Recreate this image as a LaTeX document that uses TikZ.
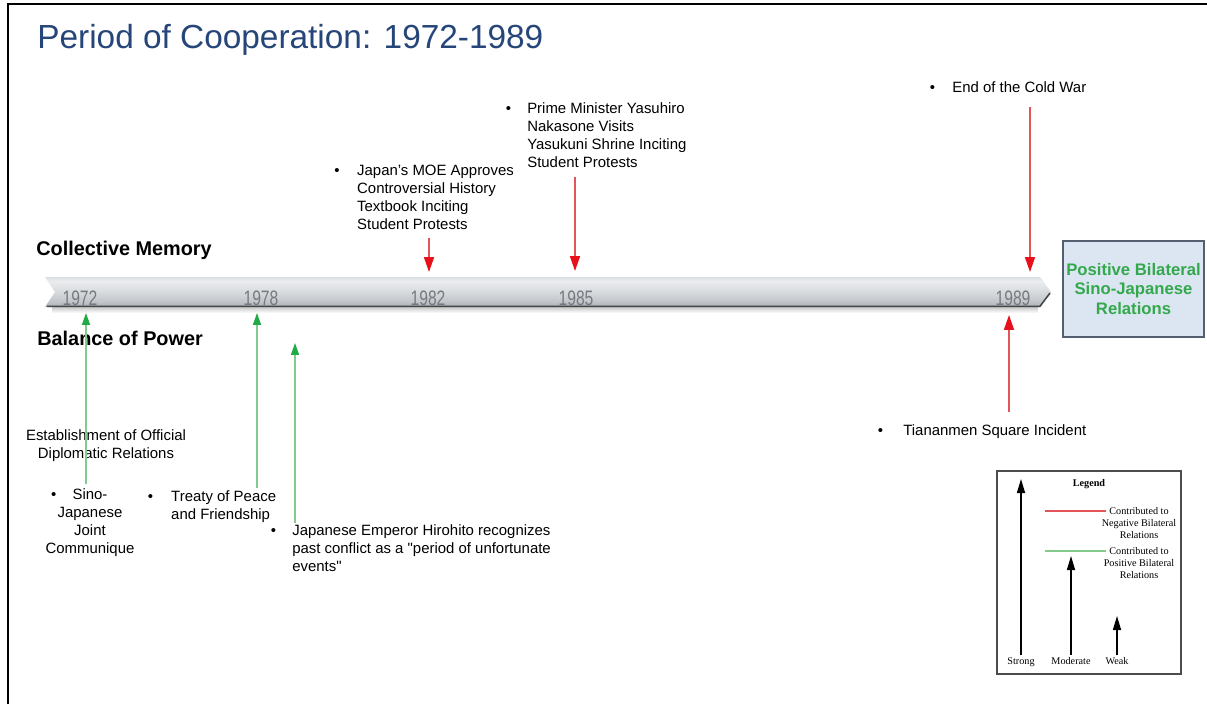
\documentclass[tikz,border=0pt]{standalone}
\usepackage{fontspec}
\setmainfont{Liberation Sans}
\newfontfamily\legendfont{Liberation Serif}
\usetikzlibrary{arrows.meta}

% palette
\definecolor{titleblue}{RGB}{38,70,122}
\definecolor{linered}{RGB}{226,84,88}
\definecolor{headred}{RGB}{232,16,26}
\definecolor{linegreen}{RGB}{130,202,142}
\definecolor{headgreen}{RGB}{34,170,70}
\definecolor{boxfill}{RGB}{220,230,242}
\definecolor{boxedge}{RGB}{84,96,112}
\definecolor{boxtext}{RGB}{52,168,76}
\definecolor{yeargray}{RGB}{118,123,129}
\definecolor{barA}{RGB}{168,172,176}
\definecolor{barB}{RGB}{192,196,200}
\definecolor{barC}{RGB}{218,221,224}
\definecolor{barD}{RGB}{234,236,238}
\definecolor{barE}{RGB}{220,223,226}

% timeline bar: darker towards its lower edge
\pgfdeclareverticalshading{barshade}{100bp}{color(0bp)=(barA); color(25bp)=(barA);
  color(33bp)=(barB); color(52bp)=(barC); color(68bp)=(barD); color(75bp)=(barE); color(100bp)=(barE)}

\newcommand\txtblock[2]{\begin{tabular}[t]{@{}#1@{}}#2\end{tabular}}
\newcommand\bul[1]{\makebox[#1][l]{\textbullet}}

\tikzset{
  body/.style={font=\fontsize{8.5}{10.4}\selectfont, inner sep=0pt, anchor=base west},
  bodyc/.style={font=\fontsize{8.5}{10.4}\selectfont, inner sep=0pt, anchor=base},
  heading/.style={font=\fontsize{11.3}{13.5}\selectfont\bfseries, inner sep=0pt, anchor=base west},
  yearlabel/.style={font=\fontsize{11.9}{14}\selectfont, text=yeargray, inner sep=0pt, anchor=base},
  legtext/.style={font=\legendfont\fontsize{5.8}{7.1}\selectfont, inner sep=0pt, anchor=base},
  negarrow/.style={draw=linered, line width=0.85pt, -{Triangle[length=8.5pt, width=5.7pt, color=headred]}},
  posarrow/.style={draw=linegreen, line width=0.75pt, -{Triangle[length=6.8pt, width=4.6pt, color=headgreen]}},
  strength/.style={draw=black, line width=0.8pt, -{Triangle[length=8pt, width=4.6pt]}},
}

\begin{document}
\begin{tikzpicture}[x=0.02cm, y=-0.02cm]
\useasboundingbox (0,0) rectangle (1207,704);
\fill[white] (0,0) rectangle (1207,704);

% slide frame
\draw[line width=1pt] (8,704) -- (8,4) -- (1207,4);

% title
\node[font=\fontsize{19}{22}\selectfont, text=titleblue, inner sep=0pt, anchor=base west] (title) at (37,48) {Period of Cooperation: 1972-1989};

% timeline bar
\shade[top color=gray!50, bottom color=white] (52,306) rectangle (1038,313);
\path[shading=barshade] (45,277) -- (1040,277) -- (1051,292) -- (1040,307) -- (45,307) -- (55,292) -- cycle;
\draw[gray!55!black, line width=0.9pt] (47,306.3) -- (1040,306.3) -- (1050,293);

\node[yearlabel] (y1972) at (80,305) {\scalebox{0.75}[1]{1972}};
\node[yearlabel] (y1978) at (261,305) {\scalebox{0.75}[1]{1978}};
\node[yearlabel] (y1982) at (428,305) {\scalebox{0.75}[1]{1982}};
\node[yearlabel] (y1985) at (576,305) {\scalebox{0.75}[1]{1985}};
\node[yearlabel] (y1989) at (1013,305) {\scalebox{0.75}[1]{1989}};

% side headings
\node[heading] (memory) at (36,255) {Collective Memory};
\node[heading] (power) at (37,345) {Balance of Power};

% outcome box
\node[draw=boxedge, line width=1pt, fill=boxfill, minimum width=79.9pt, minimum height=54.4pt,
      inner sep=0pt, align=center, text=boxtext, font=\fontsize{9.5}{11.3}\selectfont\bfseries] (goal)
      at (1133.5,289) {Positive Bilateral\\Sino-Japanese\\Relations};

% events above the line
\node[body] (moe) at (334,175) {\txtblock{l@{}l}{\bul{13pt} & Japan's MOE Approves\\ & Controversial History\\ & Textbook Inciting\\ & Student Protests}};
\node[body] (nakasone) at (505.5,113) {\txtblock{l@{}l}{\bul{12.2pt} & Prime Minister Yasuhiro\\ & Nakasone Visits\\ & Yasukuni Shrine Inciting\\ & Student Protests}};
\node[body] (coldwar) at (929.5,92) {\txtblock{l@{}l}{\bul{12.8pt} & End of the Cold War}};

% events below the line
\node[body] (tiananmen) at (877.5,435) {\txtblock{l@{}l}{\bul{14.5pt} & Tiananmen Square Incident}};
\node[bodyc] (diplo) at (106,440) {\txtblock{c}{Establishment of Official\\Diplomatic Relations}};
\node[bodyc] (communique) at (90,499) {\txtblock{c}{\makebox[0pt][r]{\textbullet\hspace{9.3pt}}Sino-\\Japanese\\Joint\\Communique}};
\node[body] (treaty) at (147.5,501) {\txtblock{l@{}l}{\bul{13.3pt} & Treaty of Peace\\ & and Friendship}};
\node[body] (hirohito) at (270.5,535) {\txtblock{l@{}l}{\bul{12.2pt} & Japanese Emperor Hirohito recognizes\\ & past conflict as a \textquotedbl period of unfortunate\\ & events\textquotedbl}};

% arrow ends
\coordinate (moeTail) at (429,238);   \coordinate (moeTip) at (429,272);
\coordinate (nakTail) at (575,177);   \coordinate (nakTip) at (575,271);
\coordinate (cwTail) at (1030,107);   \coordinate (cwTip) at (1030,272);
\coordinate (tiaTail) at (1009,412);  \coordinate (tiaTip) at (1009,315);
\coordinate (comTail) at (86,484);    \coordinate (comTip) at (86,313);
\coordinate (treTail) at (257,488);   \coordinate (treTip) at (257,313);
\coordinate (hirTail) at (295,523);   \coordinate (hirTip) at (295,343);

\draw[negarrow] (moeTail) -- (moeTip);
\draw[negarrow] (nakTail) -- (nakTip);
\draw[negarrow] (cwTail) -- (cwTip);
\draw[negarrow] (tiaTail) -- (tiaTip);
\draw[posarrow] (comTail) -- (comTip);
\draw[posarrow] (treTail) -- (treTip);
\draw[posarrow] (hirTail) -- (hirTip);

% legend
\draw[gray!60!black, line width=1pt, fill=white] (997,471) rectangle (1181,674);
\node[legtext, font=\legendfont\fontsize{5.8}{7.1}\selectfont\bfseries] (legtitle) at (1089,486) {Legend};
\coordinate (negA) at (1045,511); \coordinate (negB) at (1106,511);
\coordinate (posA) at (1045,551); \coordinate (posB) at (1106,551);
\draw[linered, line width=0.7pt] (negA) -- (negB);
\draw[linegreen, line width=0.7pt] (posA) -- (posB);
\node[legtext] (negtxt) at (1139,514) {\txtblock{c}{Contributed to\\Negative Bilateral\\Relations}};
\node[legtext] (postxt) at (1139,554) {\txtblock{c}{Contributed to\\Positive Bilateral\\Relations}};

\coordinate (strongTail) at (1021,655); \coordinate (strongTip) at (1021,479);
\coordinate (modTail) at (1071,655);    \coordinate (modTip) at (1071,556);
\coordinate (weakTail) at (1117,655);   \coordinate (weakTip) at (1117,616);
\draw[strength] (strongTail) -- (strongTip);
\draw[strength] (modTail) -- (modTip);
\draw[strength] (weakTail) -- (weakTip);
\node[legtext] (strong) at (1021,664) {Strong};
\node[legtext] (moderate) at (1071,664) {Moderate};
\node[legtext] (weak) at (1117,664) {Weak};
\end{tikzpicture}
\end{document}
